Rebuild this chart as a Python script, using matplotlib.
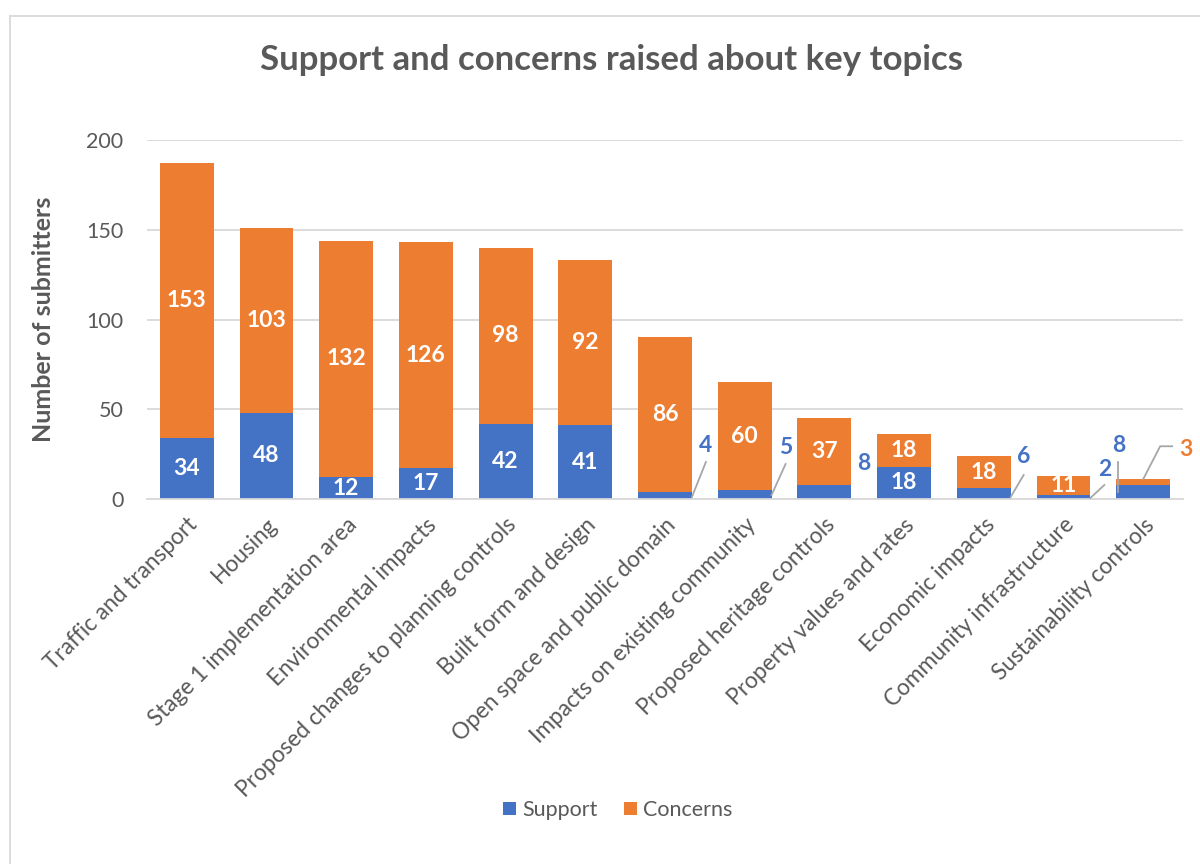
import numpy as np
import matplotlib.pyplot as plt
from matplotlib.lines import Line2D

topics = ["Traffic and transport", "Housing", "Stage 1 implementation area",
          "Environmental impacts", "Proposed changes to planning controls",
          "Built form and design", "Open space and public domain",
          "Impacts on existing community", "Proposed heritage controls",
          "Property values and rates", "Economic impacts",
          "Community infrastructure", "Sustainability controls"]
support = [34, 48, 12, 17, 42, 41, 4, 5, 8, 18, 6, 2, 8]
concerns = [153, 103, 132, 126, 98, 92, 86, 60, 37, 18, 18, 11, 3]

blue = "#4472C4"
orange = "#ED7D31"
grey_txt = "#595959"
grid_c = "#D9D9D9"
lead_c = "#A6A6A6"
num_fs = 16.5

plt.rcParams['font.family'] = ['Lato', 'DejaVu Sans']

fig = plt.figure(figsize=(12, 8.64), dpi=100)
ax = fig.add_axes([147/1200, 1-499/864, 1036/1200, 359/864])

x = np.arange(len(topics))
w = 0.675
ax.bar(x, support, w, color=blue, label="Support", zorder=3)
ax.bar(x, concerns, w, bottom=support, color=orange, label="Concerns", zorder=3)

ax.set_xlim(-0.5, len(topics) - 0.5)
ax.set_ylim(0, 200)
ax.set_yticks([0, 50, 100, 150, 200])
ax.yaxis.grid(True, color=grid_c, linewidth=1.3, zorder=0)
for s in ["top", "right", "left"]:
    ax.spines[s].set_visible(False)
ax.spines["bottom"].set_color(grid_c)
ax.spines["bottom"].set_linewidth(1.3)
ax.spines["bottom"].set_zorder(4)
ax.tick_params(axis="y", length=0, pad=17, labelsize=15.5, labelcolor=grey_txt)
ax.tick_params(axis="x", length=0, pad=11, labelsize=16.3, labelcolor=grey_txt)
ax.set_xticks(x)
ax.set_xticklabels(topics, rotation=45, ha="right", va="top", rotation_mode="anchor")

ax.set_ylabel("Number of submitters", fontsize=18, fontweight="bold", color=grey_txt)
ax.yaxis.set_label_coords((55 - 147) / 1036, 0.5)

fig.text(612/1200, 1-60/864, "Support and concerns raised about key topics",
         ha="center", va="center", fontsize=25, fontweight="bold", color=grey_txt)

# labels inside the bars
inside_support = [0, 1, 2, 3, 4, 5, 9]
inside_concerns = list(range(12))
for i in inside_support:
    ax.text(x[i], support[i] / 2, str(support[i]), ha="center", va="center",
            color="white", fontsize=num_fs, fontweight="bold", zorder=5)
for i in inside_concerns:
    ax.text(x[i], support[i] + concerns[i] / 2, str(concerns[i]), ha="center",
            va="center", color="white", fontsize=num_fs, fontweight="bold", zorder=5)


def shift(px, py, dx, dy):
    X, Y = ax.transData.transform((px, py))
    return ax.transData.inverted().transform((X + dx, Y + dy))


def leader(pts):
    xs, ys = zip(*pts)
    ax.add_line(Line2D(xs, ys, color=lead_c, linewidth=1.3, zorder=6, clip_on=False))


# support callouts outside the bars: (label offset px, leader start, leader end)
support_callouts = {6: ((14, 54), (0, 2), (14, 37)),
                    7: ((14, 51), (0, 4), (14, 35)),
                    8: ((12, 36), None, None),
                    10: ((13, 42), (0, 2), (13, 24)),
                    11: ((14, 29), (0, 1), (14, 14))}
for i, (lab, a, b) in support_callouts.items():
    cx = x[i] + w / 2
    tx, ty = shift(cx, 0, *lab)
    ax.text(tx, ty, str(support[i]), ha="center", va="center", color=blue,
            fontsize=num_fs, fontweight="bold", zorder=6)
    if a is not None:
        leader([shift(cx, 0, *a), shift(cx, 0, *b)])

# sustainability controls: both labels outside
i = 12
lx = x[i] - w / 2
tx, ty = shift(lx, 0, 2, 54)
ax.text(tx, ty, str(support[i]), ha="center", va="center", color=blue,
        fontsize=num_fs, fontweight="bold", zorder=6)
leader([shift(lx, 0, 2, 7), shift(lx, 0, 2, 37)])
top = support[i] + concerns[i]
tx, ty = shift(x[i], top, 43, 30)
ax.text(tx, ty, str(concerns[i]), ha="center", va="center", color=orange,
        fontsize=num_fs, fontweight="bold", zorder=6)
leader([shift(x[i], top, 0, 0), shift(x[i], top, 17, 33), shift(x[i], top, 29, 33)])

fig.legend(loc="center", bbox_to_anchor=(618/1200, 1-810/864), ncol=2,
           frameon=False, fontsize=15.5, labelcolor=grey_txt, handlelength=0.6,
           handleheight=0.6, handletextpad=0.3, columnspacing=1.2)

# chart area border (left and top visible)
fig.add_artist(Line2D([10/1200, 10/1200], [0, 1-16/864], color=grid_c,
                      linewidth=1.3, transform=fig.transFigure))
fig.add_artist(Line2D([10/1200, 1], [1-16/864, 1-16/864], color=grid_c,
                      linewidth=1.3, transform=fig.transFigure))

fig.savefig("out.png", dpi=100)
